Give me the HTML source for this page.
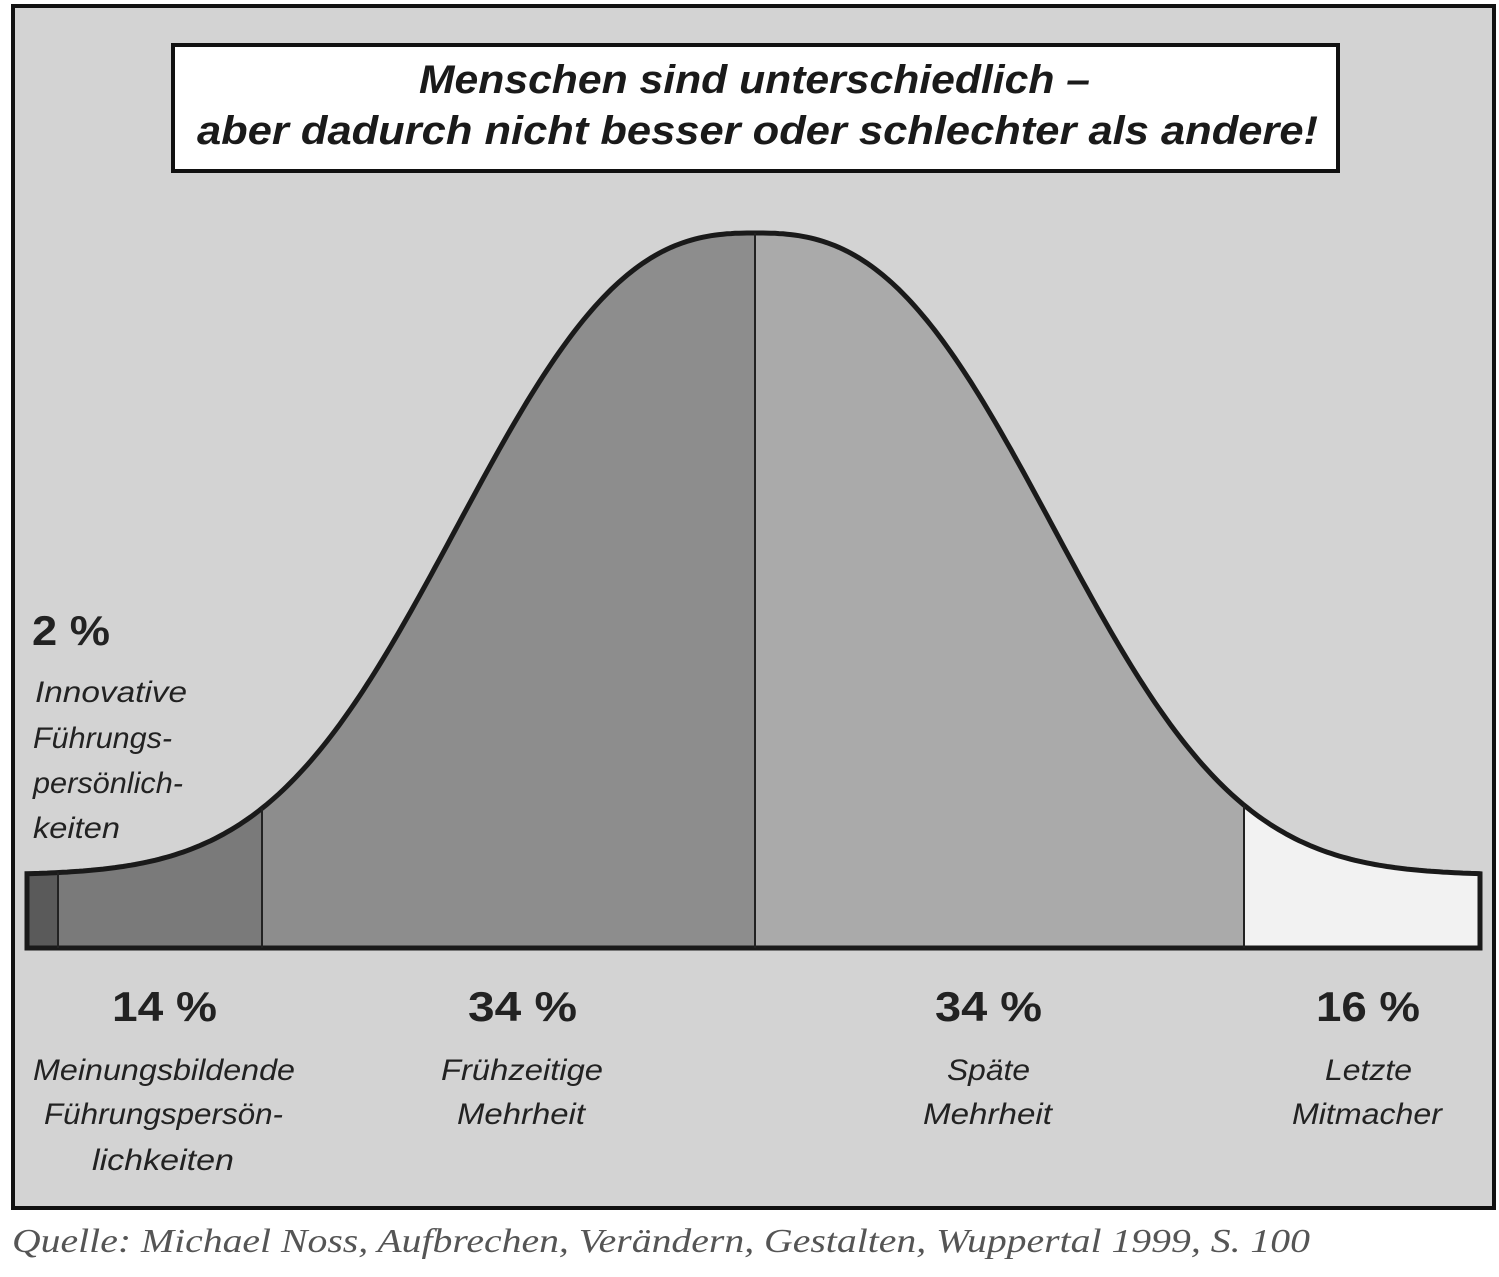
<!DOCTYPE html>
<html><head><meta charset="utf-8"><style>
body{margin:0;background:#fff;width:1499px;height:1272px;overflow:hidden;font-family:"Liberation Sans",sans-serif}
</style></head><body>
<svg id="s" width="1499" height="1272" xmlns="http://www.w3.org/2000/svg">
<rect x="13" y="6" width="1481" height="1202" fill="#d3d3d3" stroke="#111" stroke-width="4"/>
<rect x="173" y="45" width="1165" height="126" fill="#fff" stroke="#111" stroke-width="4"/>
<g font-family="Liberation Sans,sans-serif" font-weight="bold" font-style="italic" font-size="40" fill="#1a1a1a" lengthAdjust="spacingAndGlyphs">
<text x="419" y="93" textLength="671" lengthAdjust="spacingAndGlyphs">Menschen sind unterschiedlich –</text>
<text x="197" y="144" textLength="1121" lengthAdjust="spacingAndGlyphs">aber dadurch nicht besser oder schlechter als andere!</text>
</g>
<defs><clipPath id="c"><path id="cp"/></clipPath></defs>
<g clip-path="url(#c)">
<rect x="27" y="200" width="31" height="760" fill="#5a5a5a"/>
<rect x="58" y="200" width="204" height="760" fill="#7a7a7a"/>
<rect x="262" y="200" width="493" height="760" fill="#8d8d8d"/>
<rect x="755" y="200" width="489" height="760" fill="#aaaaaa"/>
<rect x="1244" y="200" width="240" height="760" fill="#f2f2f2"/>
</g>
<path id="op" fill="none" stroke="#1a1a1a" stroke-width="5"/>
<g id="dv" stroke="#222" stroke-width="2"></g>
<g font-family="Liberation Sans,sans-serif" fill="#222">
<text x="32" y="645" font-size="42" font-weight="bold" textLength="78" lengthAdjust="spacingAndGlyphs">2 %</text>
<g font-size="30" font-style="italic">
<text x="35" y="702" textLength="152" lengthAdjust="spacingAndGlyphs">Innovative</text>
<text x="33" y="748" textLength="139" lengthAdjust="spacingAndGlyphs">Führungs-</text>
<text x="33" y="793" textLength="150" lengthAdjust="spacingAndGlyphs">persönlich-</text>
<text x="33" y="838" textLength="87" lengthAdjust="spacingAndGlyphs">keiten</text>
</g>
<g font-size="42" font-weight="bold">
<text x="112" y="1021" textLength="105" lengthAdjust="spacingAndGlyphs">14 %</text>
<text x="468" y="1021" textLength="109" lengthAdjust="spacingAndGlyphs">34 %</text>
<text x="935" y="1021" textLength="107" lengthAdjust="spacingAndGlyphs">34 %</text>
<text x="1316" y="1021" textLength="104" lengthAdjust="spacingAndGlyphs">16 %</text>
</g>
<g font-size="30" font-style="italic">
<text x="33" y="1080" textLength="262" lengthAdjust="spacingAndGlyphs">Meinungsbildende</text>
<text x="44" y="1124" textLength="239" lengthAdjust="spacingAndGlyphs">Führungspersön-</text>
<text x="92" y="1170" textLength="142" lengthAdjust="spacingAndGlyphs">lichkeiten</text>
<text x="441" y="1080" textLength="162" lengthAdjust="spacingAndGlyphs">Frühzeitige</text>
<text x="457" y="1124" textLength="128" lengthAdjust="spacingAndGlyphs">Mehrheit</text>
<text x="947" y="1080" textLength="83" lengthAdjust="spacingAndGlyphs">Späte</text>
<text x="923" y="1124" textLength="129" lengthAdjust="spacingAndGlyphs">Mehrheit</text>
<text x="1325" y="1080" textLength="87" lengthAdjust="spacingAndGlyphs">Letzte</text>
<text x="1292" y="1124" textLength="150" lengthAdjust="spacingAndGlyphs">Mitmacher</text>
</g>
</g>
<text x="12" y="1252" font-family="Liberation Serif,serif" font-style="italic" font-size="34" fill="#555" textLength="1298" lengthAdjust="spacingAndGlyphs">Quelle: Michael Noss, Aufbrechen, Verändern, Gestalten, Wuppertal 1999, S. 100</text>
</svg>
<script>
function y(x){var d=Math.abs(x-755)/360;return 875-642*Math.exp(-Math.pow(d,2.6));}
var p="M27,948 L27,875";
for(var x=27;x<=1480;x+=4)p+=" L"+x+","+y(x).toFixed(1);
p+=" L1480,"+y(1480).toFixed(1)+" L1480,948 Z";
document.getElementById("cp").setAttribute("d",p);
document.getElementById("op").setAttribute("d",p);
var g=document.getElementById("dv");
[58,262,755,1244].forEach(function(x){var l=document.createElementNS("http://www.w3.org/2000/svg","line");l.setAttribute("x1",x);l.setAttribute("x2",x);l.setAttribute("y1",y(x));l.setAttribute("y2",948);g.appendChild(l);});
</script>
</body></html>
